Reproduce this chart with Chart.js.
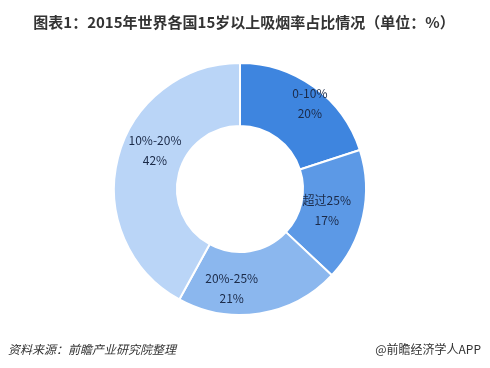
<!DOCTYPE html>
<html>
<head>
<meta charset="utf-8">
<script src="https://cdn.jsdelivr.net/npm/chart.js@4/dist/chart.umd.min.js"></script>
<style>
html,body{margin:0;padding:0;background:#fff;}
#wrap{width:490px;height:368px;position:relative;}
</style>
</head>
<body>
<div id="wrap"><canvas id="c" width="490" height="368"></canvas></div>
<script>
const categories = ['0-10%', '超过25%', '20%-25%', '10%-20%'];
const shares = [20, 17, 21, 42];
const sliceColors = ['#3E85DF', '#5C99E6', '#8BB7EE', '#BAD5F7'];
const titleText = '图表1：2015年世界各国15岁以上吸烟率占比情况（单位：%）';
const sourceText = '资料来源：前瞻产业研究院整理';
const brandText = '@前瞻经济学人APP';

const FONT = '"Noto Sans CJK SC", "Noto Sans", sans-serif';

const textPlugin = {
  id: 'texts',
  afterDraw(chart, args, opts) {
    const ctx = chart.ctx;
    ctx.save();
    // title
    ctx.fillStyle = '#333333';
    ctx.font = 'bold 15px ' + FONT;
    ctx.textAlign = 'center';
    ctx.textBaseline = 'middle';
    ctx.fillText(titleText, 244, 22);
    // footer
    ctx.font = 'italic 12px ' + FONT;
    ctx.textAlign = 'left';
    ctx.fillStyle = '#333333';
    ctx.fillText(sourceText, 8, 349);
    ctx.font = '12px ' + FONT;
    ctx.textAlign = 'right';
    ctx.fillText(brandText, 481, 349);
    // slice labels
    const meta = chart.getDatasetMeta(0);
    ctx.font = '12px ' + FONT;
    ctx.textAlign = 'center';
    ctx.fillStyle = '#1B2A48';
    meta.data.forEach((arc, i) => {
      const p = arc.getProps(['x','y','startAngle','endAngle','innerRadius','outerRadius'], true);
      const mid = (p.startAngle + p.endAngle) / 2;
      const r = p.innerRadius + (p.outerRadius - p.innerRadius) * 0.59;
      const nudge = opts.nudges[i] || [0,0];
      const cx = p.x + Math.cos(mid) * r + nudge[0];
      const cy = p.y + Math.sin(mid) * r + nudge[1];
      ctx.fillText(categories[i], cx, cy - 10);
      ctx.fillText(shares[i] + '%', cx, cy + 10);
    });
    ctx.restore();
  }
};

new Chart(document.getElementById('c'), {
  type: 'doughnut',
  data: {
    labels: categories,
    datasets: [{
      data: shares,
      backgroundColor: sliceColors,
      borderColor: '#ffffff',
      borderWidth: 2,
      hoverOffset: 0
    }]
  },
  options: {
    responsive: false,
    animation: false,
    cutout: '50%',
    layout: { padding: { top: 62, bottom: 52, left: 113, right: 123 } },
    plugins: {
      legend: { display: false },
      tooltip: { enabled: false },
      title: { display: false },
      texts: { nudges: [[11,-5], [-11,0], [-24,1], [12,-14]] }
    }
  },
  plugins: [textPlugin]
});
</script>
</body>
</html>
